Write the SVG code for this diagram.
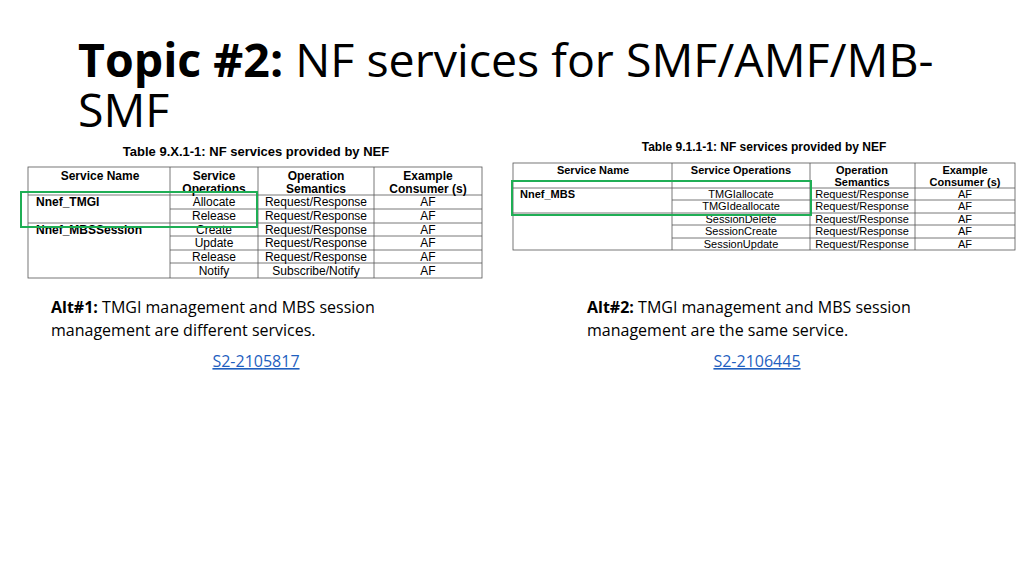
<svg xmlns="http://www.w3.org/2000/svg" width="1024" height="575" viewBox="0 0 1024 575">
<style>
.t{font-family:"Liberation Sans",Arial,sans-serif;font-size:12px;fill:#000;text-anchor:middle}
.r{font-size:11px}
.s{text-anchor:start}
.h{font-weight:bold}
.l{stroke:#555;stroke-width:0.8;fill:none}
.g{stroke:#1fae55;stroke-width:2;fill:none}
.b{font-family:"Open Sans","Noto Sans",sans-serif;font-size:16px;fill:#000}
.lk{font-family:"Open Sans","Noto Sans",sans-serif;font-size:16px;fill:#1f5fbf;text-decoration:underline;text-anchor:middle}
</style>
<rect width="1024" height="575" fill="#fff"/>
<text x="78" y="77" font-family="'Open Sans','Noto Sans',sans-serif" font-size="46.5" fill="#000"><tspan font-weight="bold">Topic #2:</tspan> NF services for SMF/AMF/MB-</text>
<text x="78" y="127" font-family="'Open Sans','Noto Sans',sans-serif" font-size="46.5" fill="#000">SMF</text>

<g id="table-left">
<text class="t h" x="256" y="156" style="font-size:13px">Table 9.X.1-1: NF services provided by NEF</text>
<rect class="l" x="28" y="167" width="454" height="111"/>
<path class="l" d="M170 167V278M258 167V278M374 167V278M28 195H482M170 209H482M28 223H482M170 236H482M170 250H482M170 263H482"/>
<text class="t h" x="100" y="180">Service Name</text>
<text class="t h" x="214" y="180">Service</text><text class="t h" x="214" y="193">Operations</text>
<text class="t h" x="316" y="180">Operation</text><text class="t h" x="316" y="193">Semantics</text>
<text class="t h" x="428" y="180">Example</text><text class="t h" x="428" y="193">Consumer (s)</text>
<text class="t h s" x="36" y="206">Nnef_TMGI</text>
<text class="t h s" x="36" y="234">Nnef_MBSSession</text>
<text class="t" x="214" y="206">Allocate</text><text class="t" x="214" y="220">Release</text><text class="t" x="214" y="234">Create</text><text class="t" x="214" y="247">Update</text><text class="t" x="214" y="261">Release</text><text class="t" x="214" y="275">Notify</text>
<text class="t" x="316" y="206">Request/Response</text><text class="t" x="316" y="220">Request/Response</text><text class="t" x="316" y="234">Request/Response</text><text class="t" x="316" y="247">Request/Response</text><text class="t" x="316" y="261">Request/Response</text><text class="t" x="316" y="275">Subscribe/Notify</text>
<text class="t" x="428" y="206">AF</text><text class="t" x="428" y="220">AF</text><text class="t" x="428" y="234">AF</text><text class="t" x="428" y="247">AF</text><text class="t" x="428" y="261">AF</text><text class="t" x="428" y="275">AF</text>
<rect class="g" x="21" y="192" width="236" height="35"/>
</g>

<g id="table-right">
<text class="t h" x="764" y="151">Table 9.1.1-1: NF services provided by NEF</text>
<rect class="l" x="513" y="163" width="502" height="87"/>
<path class="l" d="M672 163V250M810 163V250M915 163V250M513 188H1015M672 200H1015M513 213H1015M672 225H1015M672 238H1015"/>
<text class="t h r" x="593" y="174">Service Name</text>
<text class="t h r" x="741" y="174">Service Operations</text>
<text class="t h r" x="862" y="174">Operation</text><text class="t h r" x="862" y="186">Semantics</text>
<text class="t h r" x="965" y="174">Example</text><text class="t h r" x="965" y="186">Consumer (s)</text>
<text class="t h r s" x="520" y="198">Nnef_MBS</text>
<text class="t r" x="741" y="198">TMGIallocate</text><text class="t r" x="741" y="210">TMGIdeallocate</text><text class="t r" x="741" y="223">SessionDelete</text><text class="t r" x="741" y="235">SessionCreate</text><text class="t r" x="741" y="248">SessionUpdate</text>
<text class="t r" x="862" y="198">Request/Response</text><text class="t r" x="862" y="210">Request/Response</text><text class="t r" x="862" y="223">Request/Response</text><text class="t r" x="862" y="235">Request/Response</text><text class="t r" x="862" y="248">Request/Response</text>
<text class="t r" x="965" y="198">AF</text><text class="t r" x="965" y="210">AF</text><text class="t r" x="965" y="223">AF</text><text class="t r" x="965" y="235">AF</text><text class="t r" x="965" y="248">AF</text>
<rect class="g" x="512" y="181" width="299" height="34"/>
</g>

<g id="alt1">
<text class="b" x="51" y="313"><tspan font-weight="bold">Alt#1:</tspan> TMGI management and MBS session</text>
<text class="b" x="51" y="336">management are different services.</text>
<text class="lk" x="256" y="367">S2-2105817</text>
</g>
<g id="alt2">
<text class="b" x="587" y="313"><tspan font-weight="bold">Alt#2:</tspan> TMGI management and MBS session</text>
<text class="b" x="587" y="336">management are the same service.</text>
<text class="lk" x="757" y="367">S2-2106445</text>
</g>
</svg>
